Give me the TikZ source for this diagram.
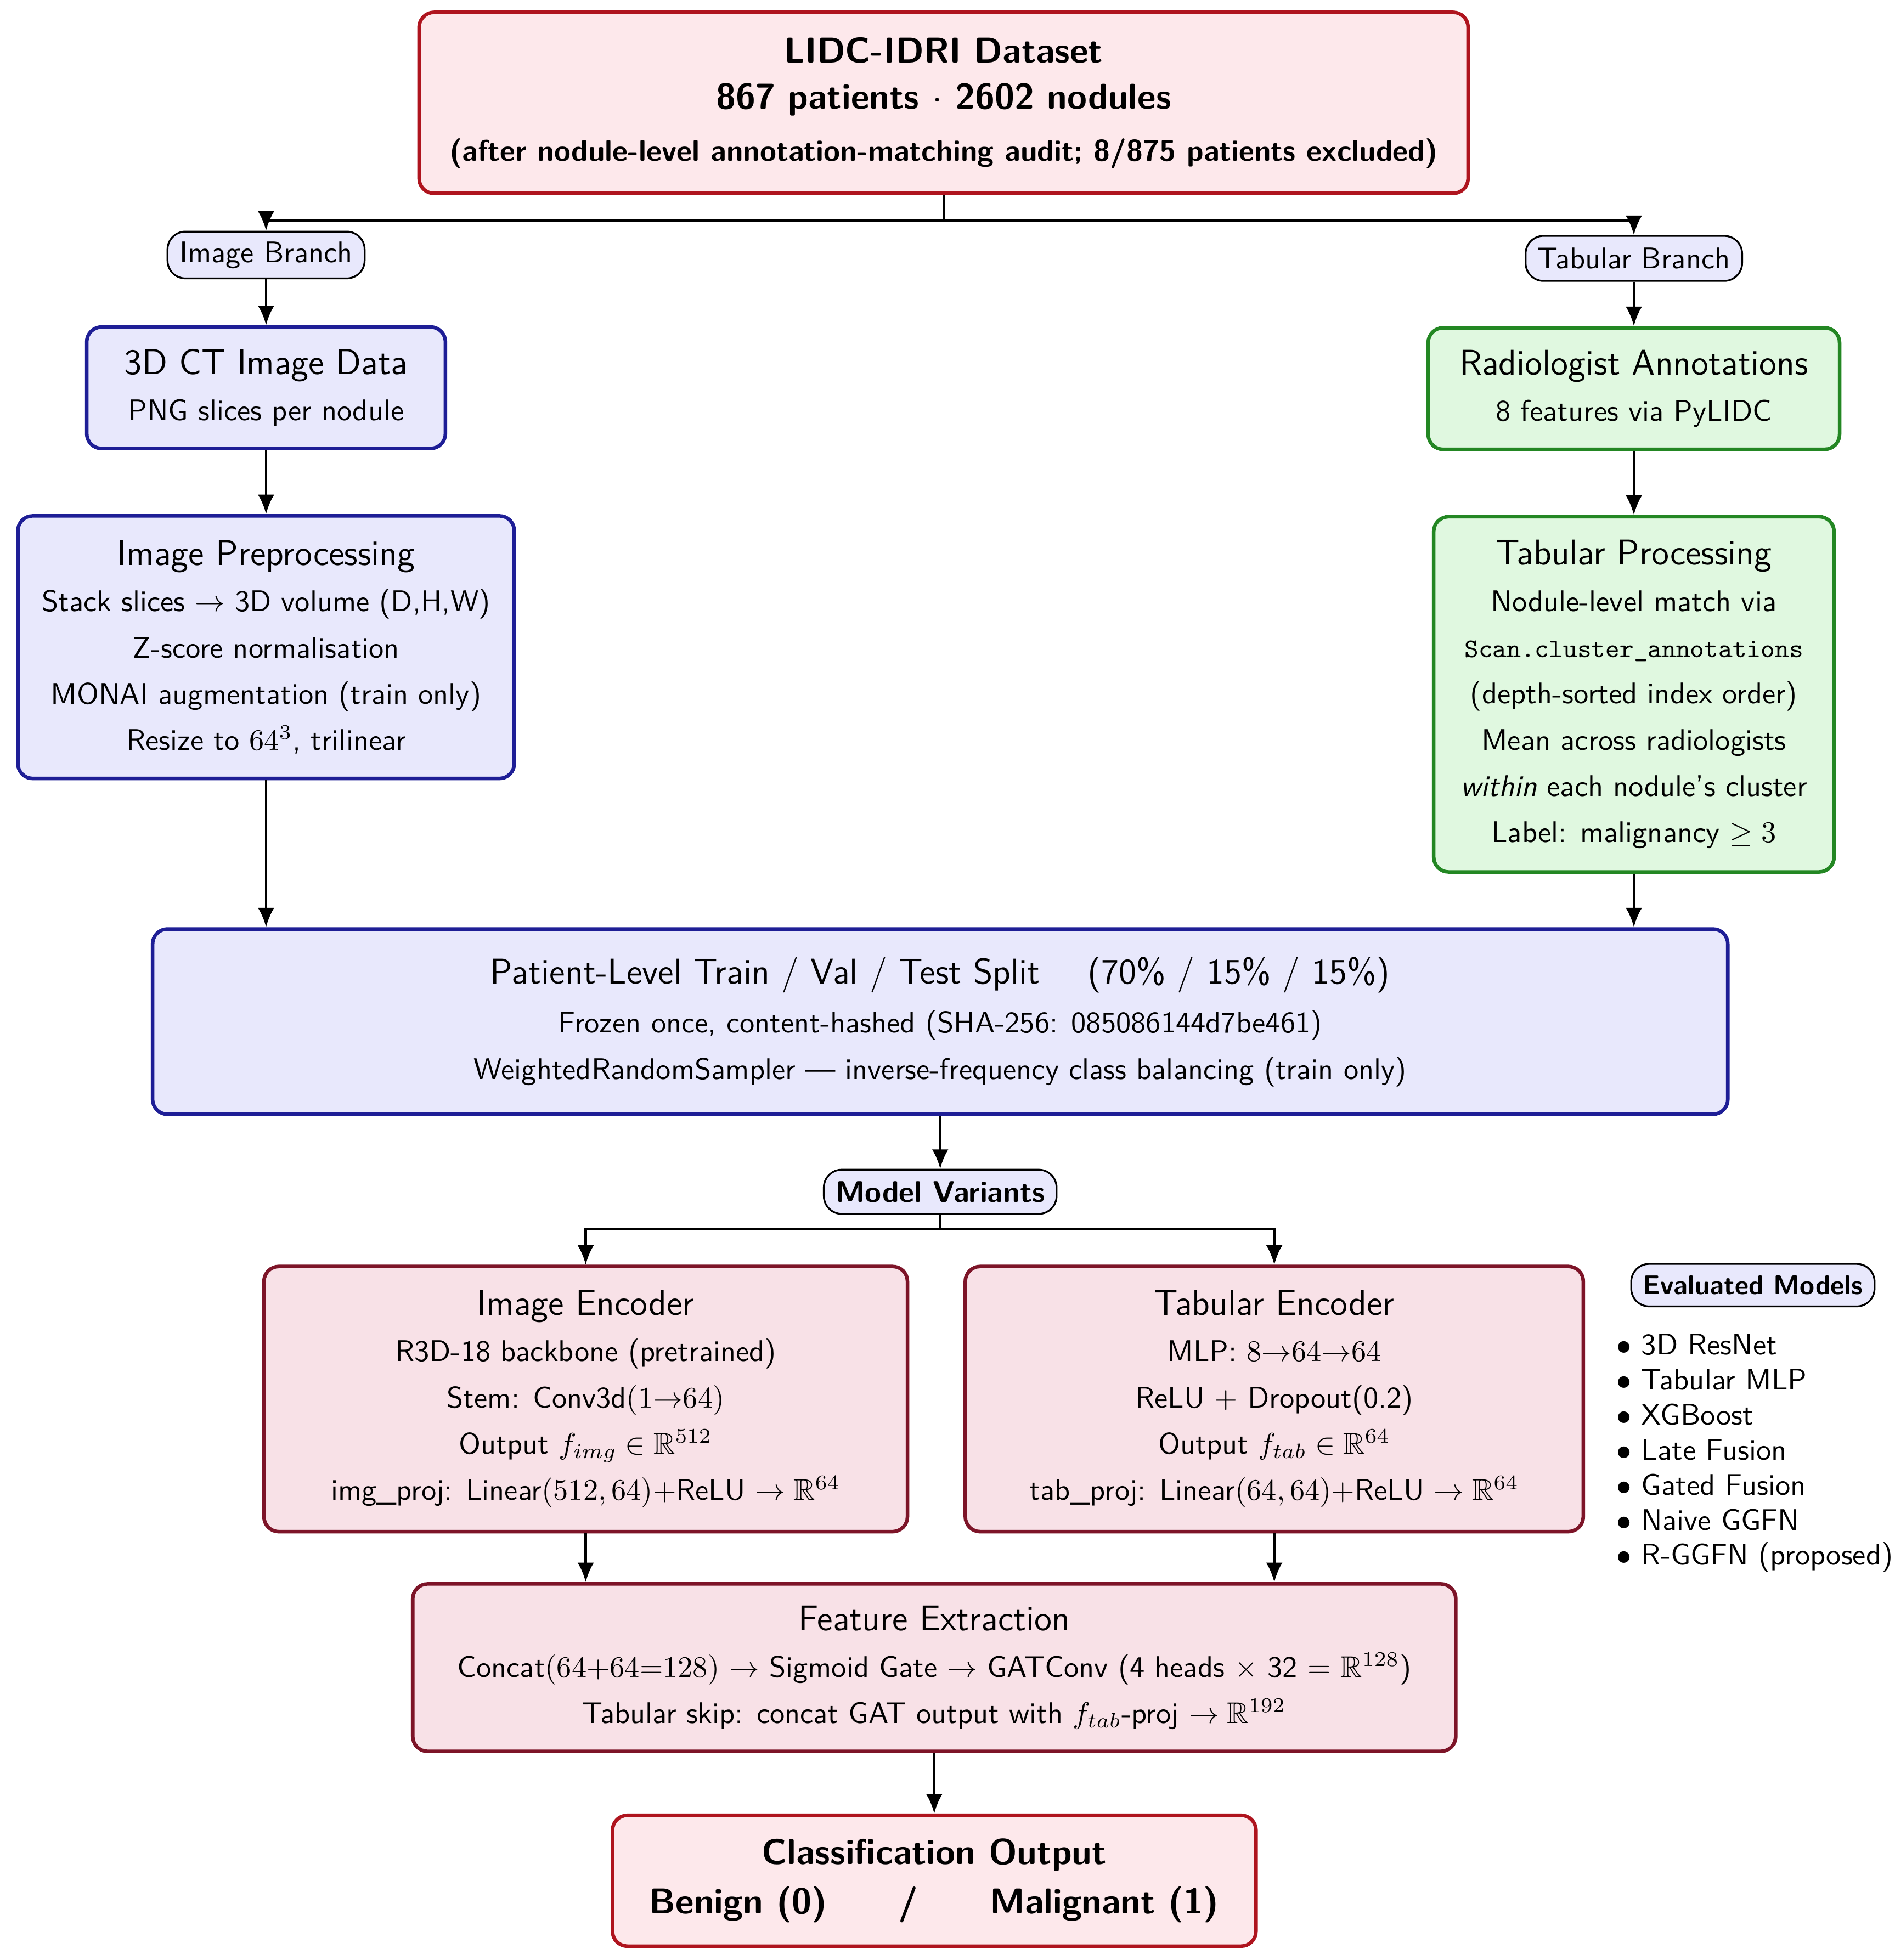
\documentclass[tikz,border=0pt]{standalone}
\usepackage{amsmath,amssymb}
\usepackage{tikz}
\usetikzlibrary{positioning,arrows.meta,calc}
\renewcommand{\familydefault}{\sfdefault}

\definecolor{datared}{RGB}{175,20,30}
\definecolor{datafill}{RGB}{253,232,235}
\definecolor{imgblue}{RGB}{30,30,150}
\definecolor{imgfill}{RGB}{232,232,252}
\definecolor{tabgreen}{RGB}{35,135,35}
\definecolor{tabfill}{RGB}{224,248,224}
\definecolor{encred}{RGB}{125,20,40}
\definecolor{encfill}{RGB}{248,225,231}

\tikzset{
    >={Latex[length=6.5pt,width=5.5pt]},
    block/.style={
        rectangle,
        rounded corners=5pt,
        very thick,
        align=center,
        inner sep=2pt,
        font=\linespread{1.29}\selectfont
    },
    datablock/.style={block, draw=datared, fill=datafill},
    imgblock/.style={block, draw=imgblue, fill=imgfill},
    tabblock/.style={block, draw=tabgreen, fill=tabfill},
    encblock/.style={block, draw=encred, fill=encfill},
    line/.style={draw, thick, ->},
}

\begin{document}
\begin{tikzpicture}
        % Setup the style for the small labels
        \tikzset{tag/.style={rectangle,
                             rounded corners=6pt,
                             draw=black, semithick,
                             fill=imgfill,
                             inner xsep=4pt,
                             minimum height=0.53cm}}

        \useasboundingbox (0,0) rectangle (22.29,-23.06);

        \node[datablock, minimum width=12.34cm, minimum height=2.13cm] (data) at (11.10,-1.21)
            {{\large\bfseries LIDC-IDRI Dataset}\\
             {\large\bfseries 867 patients $\cdot$ 2602 nodules}\\[2pt]
             {\bfseries (after nodule-level annotation-matching audit; 8/875 patients excluded)}};

        \node[tag] (imgbr) at (3.13,-3.00) {Image Branch};
        \node[tag] (tabbr) at (19.22,-3.04) {Tabular Branch};

        % Image branch
        \node[imgblock, minimum width=4.22cm, minimum height=1.43cm, below=0.54cm of imgbr] (ctdata)
            {{\large 3D CT Image Data}\\
             PNG slices per nodule};
        \node[imgblock, minimum width=5.84cm, minimum height=3.09cm, below=0.75cm of ctdata] (imgpre)
            {{\large Image Preprocessing}\\
             Stack slices $\rightarrow$ 3D volume (D,H,W)\\
             Z-score normalisation\\
             MONAI augmentation (train only)\\
             Resize to $64^3$, trilinear};

        % Tabular branch
        \node[tabblock, minimum width=4.84cm, minimum height=1.43cm, below=0.52cm of tabbr] (radann)
            {{\large Radiologist Annotations}\\
             8 features via PyLIDC};
        \node[tabblock, minimum width=4.71cm, minimum height=4.18cm, below=0.75cm of radann] (tabpro)
            {{\large Tabular Processing}\\
             Nodule-level match via\\
             {\small\texttt{Scan.cluster\_annotations}}\\
             (depth-sorted index order)\\
             Mean across radiologists\\
             \textit{within} each nodule's cluster\\
             Label: malignancy $\geq 3$};

        \node[imgblock, minimum width=18.53cm, minimum height=2.18cm] (split) at (11.06,-12.02)
            {{\large Patient-Level Train / Val / Test Split \quad (70\% / 15\% / 15\%)}\\[1pt]
             Frozen once, content-hashed (SHA-256: 085086144d7be461)\\
             WeightedRandomSampler --- inverse-frequency class balancing (train only)};

        \node[tag, font=\bfseries, minimum height=0.52cm, below=0.62cm of split] (variants) {Model Variants};

        % Encoders
        \node[encblock, minimum width=7.57cm, minimum height=3.12cm] (imgenc) at (6.89,-16.46)
            {{\large Image Encoder}\\
             R3D-18 backbone (pretrained)\\
             Stem: Conv3d$(1{\rightarrow}64)$\\
             Output $f_{img} \in \mathbb{R}^{512}$\\
             img\_proj: Linear$(512, 64)+$ReLU $\rightarrow \mathbb{R}^{64}$};
        \node[encblock, minimum width=7.27cm, minimum height=3.12cm] (tabenc) at (14.99,-16.46)
            {{\large Tabular Encoder}\\
             MLP: $8{\rightarrow}64{\rightarrow}64$\\
             ReLU $+$ Dropout(0.2)\\
             Output $f_{tab} \in \mathbb{R}^{64}$\\
             tab\_proj: Linear$(64, 64)+$ReLU $\rightarrow \mathbb{R}^{64}$};

        \node[encblock, minimum width=12.27cm, minimum height=1.97cm] (feat) at (10.99,-19.62)
            {{\large Feature Extraction}\\
             Concat$(64{+}64{=}128)$ $\rightarrow$ Sigmoid Gate $\rightarrow$ GATConv (4 heads $\times$ 32 = $\mathbb{R}^{128}$)\\
             Tabular skip: concat GAT output with $f_{tab}$-proj $\rightarrow \mathbb{R}^{192}$};

        \node[datablock, minimum width=7.57cm, minimum height=1.54cm, below=0.71cm of feat] (out)
            {{\large\bfseries Classification Output}\\[1pt]
             {\large\bfseries Benign (0)\qquad/\qquad Malignant (1)}};

        % Side list of models
        \node[tag, font=\small\bfseries, minimum height=0.5cm] (evalm) at (20.62,-15.12) {Evaluated Models};
        \foreach \m [count=\i] in {3D ResNet, Tabular MLP, XGBoost, Late Fusion,
                                   Gated Fusion, Naive GGFN, R-GGFN (proposed)}
            \node[anchor=base west, inner sep=0pt] (m\i) at (19.01,{-15.94-0.412*(\i-1)}) {$\bullet$\ \m};

        % Connectors
        \coordinate (fork) at ([yshift=-0.30cm]data.south);
        \coordinate (vfork) at ([yshift=-0.17cm]variants.south);

        \draw[line] (data.south) -- (fork) -| (imgbr.north);
        \draw[line] (fork) -| (tabbr.north);
        \draw[line] (imgbr.south) -- (imgbr.south |- ctdata.north);
        \draw[line] (ctdata.south) -- (ctdata.south |- imgpre.north);
        \draw[line] (tabbr.south) -- (tabbr.south |- radann.north);
        \draw[line] (radann.south) -- (radann.south |- tabpro.north);
        \draw[line] (imgpre.south) -- (imgpre.south |- split.north);
        \draw[line] (tabpro.south) -- (tabpro.south |- split.north);
        \draw[line] (split.south) -- (variants.north);
        \draw[line] (variants.south) -- (vfork) -| (imgenc.north);
        \draw[line] (vfork) -| (tabenc.north);
        \draw[line] (imgenc.south) -- (imgenc.south |- feat.north);
        \draw[line] (tabenc.south) -- (tabenc.south |- feat.north);
        \draw[line] (feat.south) -- (out.north);

\end{tikzpicture}
\end{document}
